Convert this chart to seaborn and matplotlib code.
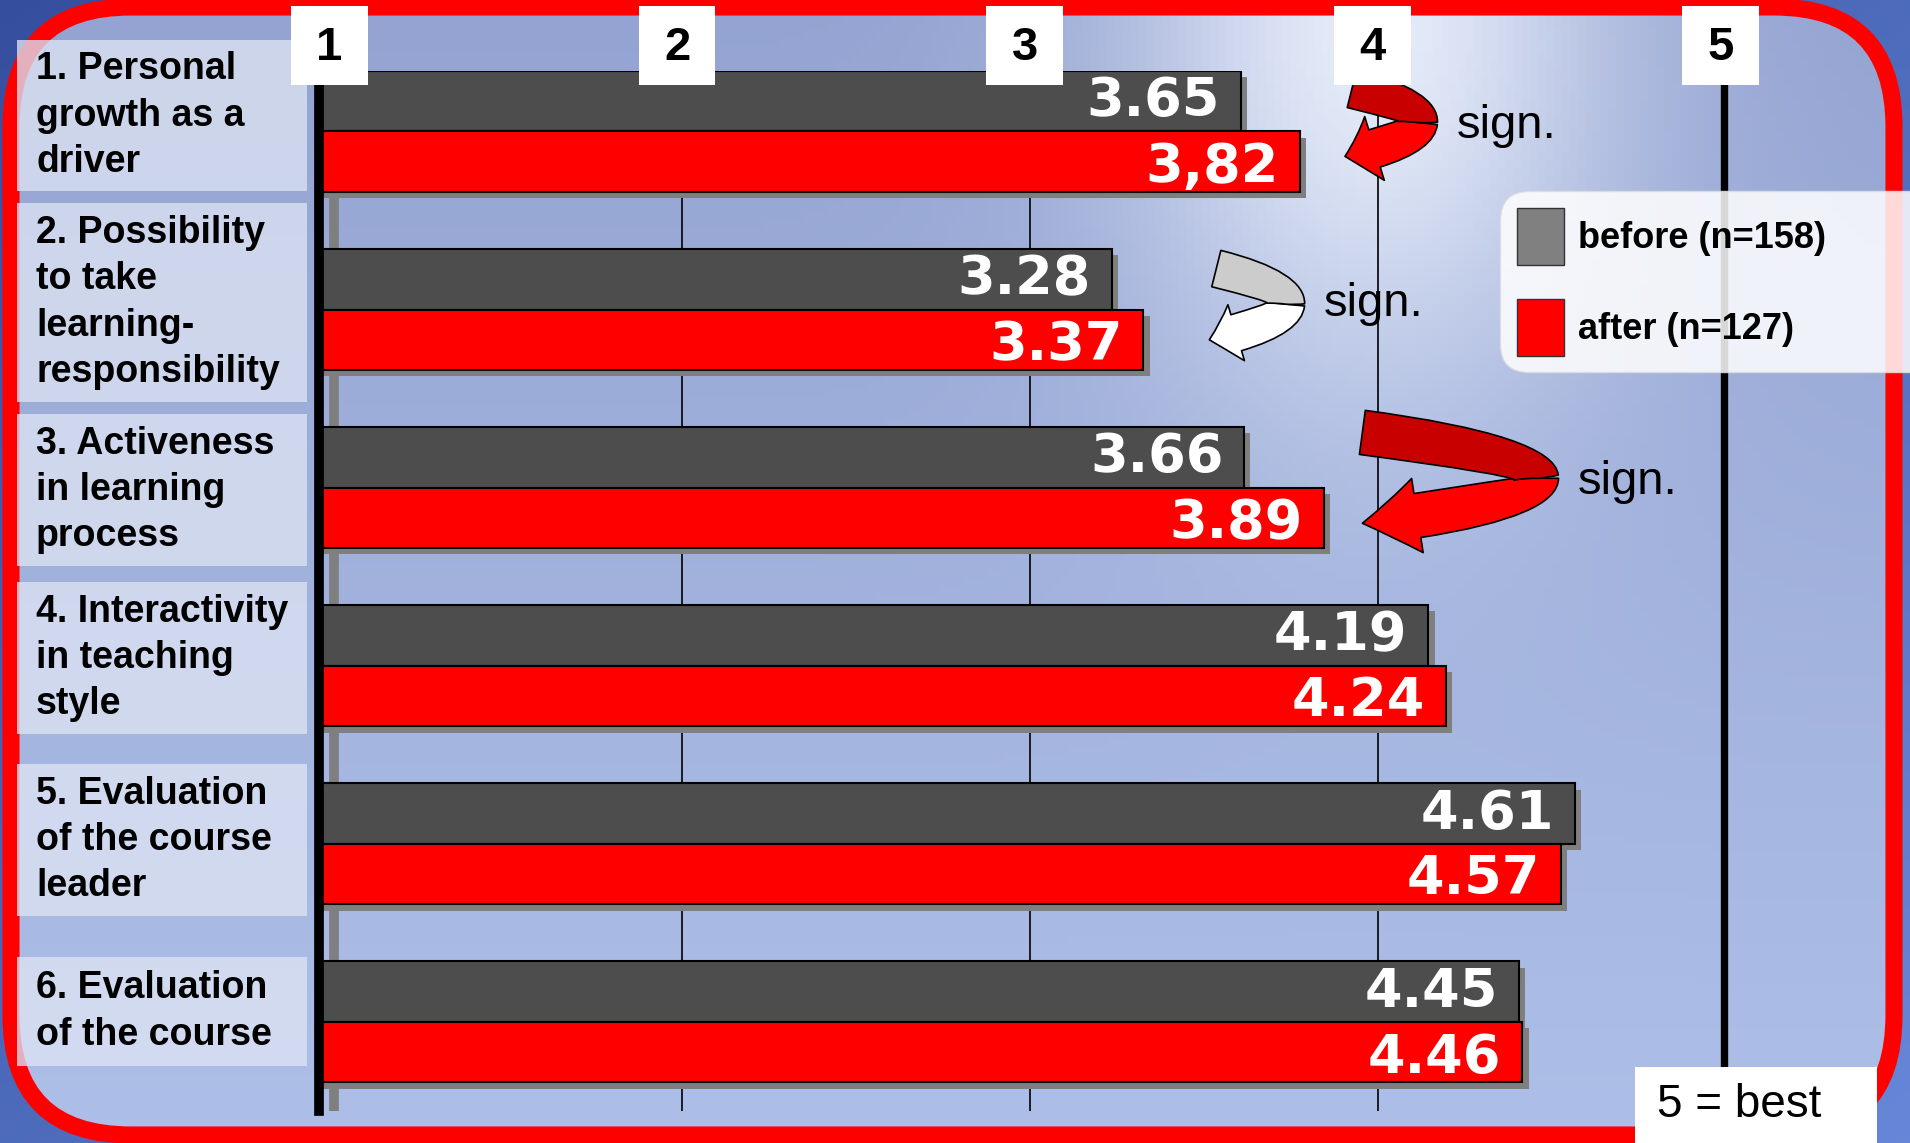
import numpy as np
import pandas as pd
import matplotlib
matplotlib.use("Agg")
import matplotlib.pyplot as plt
import matplotlib.patheffects as pe
from matplotlib.patches import FancyBboxPatch, Rectangle, FancyArrowPatch, Patch
from matplotlib.path import Path
from matplotlib.transforms import blended_transform_factory
import seaborn as sns

# chart data
items = ["Personal growth", "Learning responsibility", "Activeness",
         "Interactivity", "Course leader", "Course"]
item_labels = ["1. Personal\ngrowth as a\ndriver",
               "2. Possibility\nto take\nlearning-\nresponsibility",
               "3. Activeness\nin learning\nprocess",
               "4. Interactivity\nin teaching\nstyle",
               "5. Evaluation\nof the course\nleader",
               "6. Evaluation\nof the course"]
before = [3.65, 3.28, 3.66, 4.19, 4.61, 4.45]
after = [3.82, 3.37, 3.89, 4.24, 4.57, 4.46]
before_labels = ["3.65", "3.28", "3.66", "4.19", "4.61", "4.45"]
after_labels = ["3,82", "3.37", "3.89", "4.24", "4.57", "4.46"]
phases = ["before", "after"]
legend_labels = ["before (n=158)", "after (n=127)"]
scale_ticks = [1, 2, 3, 4, 5]

# "sign." markers: group, text x, curved arrow (tail, control, tip) relative to group centre
sign_groups = [0, 1, 2]
sign_text_x = [4.27, 3.89, 4.62]
sign_arrows = [
    dict(p0=(3.97, -0.24), p1=(4.36, -0.05), p2=(3.95, 0.14), top="#c80000", bottom="#ff0000", tw=28, hw=48, hl=22),
    dict(p0=(3.58, -0.23), p1=(3.99, -0.03), p2=(3.56, 0.17), top="#cccccc", bottom="#ffffff", tw=27, hw=42, hl=20),
    dict(p0=(4.00, -0.31), p1=(5.00, -0.05), p2=(4.00, 0.20), top="#c80000", bottom="#ff0000", tw=32, hw=54, hl=40),
]

df = pd.DataFrame({"item": items * 2,
                   "phase": ["before"] * len(items) + ["after"] * len(items),
                   "score": before + after})

plt.rcParams["font.family"] = ["Liberation Sans", "DejaVu Sans"]

W, H = 1910, 1143
fig = plt.figure(figsize=(W / 100, H / 100), dpi=100)

# ---- background: blue slide with red rounded frame
bg = fig.add_axes([0, 0, 1, 1], zorder=0)
bg.set_xlim(0, W)
bg.set_ylim(H, 0)
bg.axis("off")

gx, gy = np.meshgrid(np.linspace(0, 1, 240), np.linspace(0, 1, 150))
c_dark = np.array([0.21, 0.31, 0.62])
c_dark2 = np.array([0.40, 0.53, 0.85])
outer = c_dark * (1 - (gx + gy)[..., None] / 2) + c_dark2 * ((gx + gy)[..., None] / 2)
bg.imshow(outer, extent=(0, W, H, 0), aspect="auto", zorder=0)

c_top = np.array([0.58, 0.64, 0.82])
c_bot = np.array([0.68, 0.75, 0.91])
inner = c_top * (1 - gy[..., None]) + c_bot * gy[..., None]
glow = np.exp(-(((gx - 0.72) / 0.13) ** 2 + ((gy - 0.02) / 0.34) ** 2)) * 0.85
inner = inner * (1 - glow[..., None]) + np.array([0.95, 0.97, 1.0]) * glow[..., None]

panel = FancyBboxPatch((11, 7), 1883, 1128, boxstyle="round,pad=0,rounding_size=120",
                       fc="none", ec="#ff0000", lw=12.3, zorder=3)
bg.add_patch(panel)
im = bg.imshow(inner, extent=(0, W, H, 0), aspect="auto", zorder=1)
im.set_clip_path(panel)

label_rows = [(40, 191), (203, 402), (414, 566), (582, 734), (764, 916), (957, 1066)]
for (top, bottom), lab in zip(label_rows, item_labels):
    bg.add_patch(Rectangle((17, top), 290, bottom - top, fc="#dde3f3", ec="none",
                           alpha=0.78, zorder=4))
    bg.text(36, (top + bottom) / 2, lab, fontsize=27, fontweight="bold", ha="left",
            va="center", linespacing=1.37, zorder=5)

# ---- main bar chart
ax = fig.add_axes([319 / W, 0.028, 0.8194, 0.910], zorder=2)
ax.patch.set_alpha(0)

sns.barplot(data=df, x="score", y="item", hue="phase", order=items, hue_order=phases,
            palette={"before": "#4d4d4d", "after": "#ff0000"}, saturation=1, orient="h",
            width=0.68, edgecolor="black", linewidth=1.5, errorbar=None, legend=False,
            ax=ax, zorder=2)

for bar in ax.patches:
    bar.set_path_effects([pe.SimplePatchShadow(offset=(4.5, -4.5), shadow_rgbFace="#7f7f7f", alpha=1.0),
                          pe.Normal()])

for cont, labs, dy in zip(ax.containers, [before_labels, after_labels], [0.0, 0.03]):
    for bar, lab in zip(cont, labs):
        ax.text(bar.get_width() - 0.06, bar.get_y() + bar.get_height() / 2 + dy, lab,
                color="white", fontsize=39, fontweight="bold", family="DejaVu Sans",
                ha="right", va="center", zorder=3)

ax.set_xlim(1, 5.5)
ax.set_ylim(5.5, -0.34)
ax.set_xlabel("")
ax.set_ylabel("")
ax.tick_params(left=False, bottom=False, labelleft=False, labelbottom=False)
for s in ["top", "right", "bottom"]:
    ax.spines[s].set_visible(False)
ax.spines["left"].set_linewidth(7)
ax.spines["left"].set_color("black")

ax.axvline(scale_ticks[0] + 0.042, color="#7f7f7f", lw=7, zorder=0.4)
for v in scale_ticks[1:-1]:
    ax.axvline(v + 0.045, color="black", lw=1.2, zorder=0.5)
ax.axvline(scale_ticks[-1] + 0.04, color="black", lw=5.3, zorder=0.5)

# scale numbers in white boxes on top
trans = blended_transform_factory(ax.transData, ax.transAxes)
for v in scale_ticks:
    ax.add_patch(Rectangle((v + 0.03 - 0.111, 0.986), 0.221, 0.076, transform=trans,
                           fc="white", ec="none", clip_on=False, zorder=6))
    ax.text(v + 0.03, 1.022, str(v), transform=trans, fontsize=34, fontweight="bold",
            ha="center", va="center", zorder=7, clip_on=False)

# significance arrows
for g, tx, a in zip(sign_groups, sign_text_x, sign_arrows):
    p0 = np.array(a["p0"]) + [0, g]
    p1 = np.array(a["p1"]) + [0, g]
    p2 = np.array(a["p2"]) + [0, g]
    q = 0.25 * p0 + 0.5 * p1 + 0.25 * p2
    codes = [Path.MOVETO, Path.CURVE3, Path.CURVE3]
    low = FancyArrowPatch(path=Path([q, (p1 + p2) / 2, p2], codes),
                          arrowstyle=f"simple,head_length={a['hl']},head_width={a['hw']},tail_width={a['tw']}",
                          mutation_scale=1, fc=a["bottom"], ec="black", lw=1.2, zorder=4, clip_on=False)
    high = FancyArrowPatch(path=Path([p0, (p0 + p1) / 2, q], codes),
                           arrowstyle=f"simple,head_length=0.5,head_width={a['tw']},tail_width={a['tw']}",
                           mutation_scale=1, fc=a["top"], ec="black", lw=1.2, zorder=4, clip_on=False)
    ax.add_patch(low)
    ax.add_patch(high)
    ax.text(tx, g - 0.03, "sign.", fontsize=34, ha="left", va="center", zorder=5)

# legend (box runs off the right edge, as on the slide)
leg_top = 1 - 191 / H
handles = [Patch(facecolor="#808080", edgecolor="#333333"),
           Patch(facecolor="#ff0000", edgecolor="#333333")]
leg = ax.legend(handles, legend_labels, loc="upper left",
                bbox_to_anchor=(1500 / W, leg_top - 0.3, 440 / W, 0.3), mode="expand",
                bbox_transform=fig.transFigure, borderaxespad=0, prop={"size": 26, "weight": "bold"},
                handlelength=1.3, handleheight=2.05, handletextpad=0.4, labelspacing=0.95,
                borderpad=0.46, fancybox=True, framealpha=0.85, edgecolor="#dddddd")
leg.get_frame().set_boxstyle("round", pad=0, rounding_size=0.8)
leg.set_zorder(8)

# "5 = best" note
fig.add_artist(Rectangle((1635 / W, 0), 242 / W, 76 / H, transform=fig.transFigure,
                         fc="white", ec="none", zorder=5))
fig.text(1739 / W, 1 - 1105 / H, "5 = best", fontsize=33, ha="center", va="center", zorder=6)

fig.savefig("out.png", dpi=100)
